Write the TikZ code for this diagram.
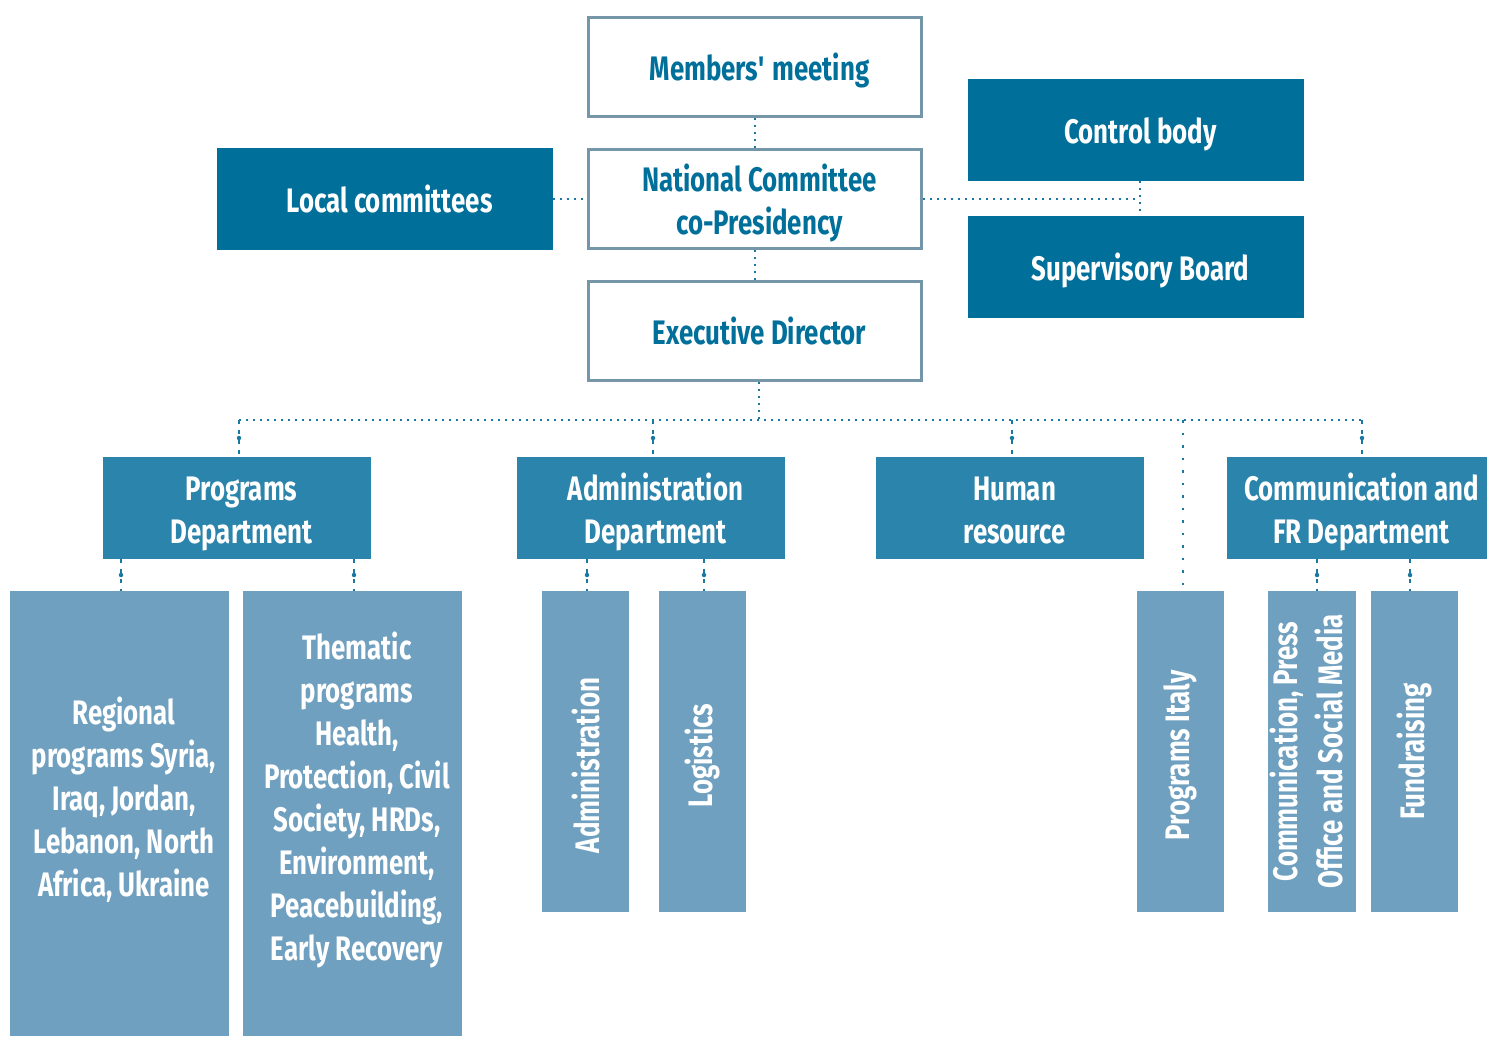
\documentclass[tikz,border=0pt]{standalone}
\usepackage{fontspec}
\setmainfont[FakeStretch=0.76]{Fira Sans}
\definecolor{dark}{HTML}{00709B}
\definecolor{mid}{HTML}{2B84AB}
\definecolor{light}{HTML}{70A0BF}
\definecolor{edge}{HTML}{7596A8}
\definecolor{conn}{HTML}{1A79A0}
\newcommand{\Txt}[2][-5pt]{\hspace*{9pt}\raisebox{#1}[\height][\depth]{\begin{tabular}{@{}c@{}}#2\end{tabular}}}
\tikzset{
  txt/.style={font=\bfseries\fontsize{34}{43}\selectfont, inner sep=0pt},
  whitebox/.style={txt, draw=edge, line width=3pt, fill=white, text=dark, minimum width=333pt, minimum height=99pt},
  darkbox/.style={txt, fill=dark, text=white, minimum width=336pt, minimum height=102pt},
  deptbox/.style={txt, fill=mid, text=white, minimum height=102pt},
  subbox/.style={txt, fill=light, text=white},
  vbox/.style={subbox, minimum width=87pt, minimum height=321pt},
  conline/.style={draw=conn, line width=1.8pt, dash pattern=on 2pt off 5pt},
  thinline/.style={draw=conn, line width=1.2pt, dash pattern=on 4pt off 6pt},
  dotc/.style={fill=conn, draw=none, circle, minimum size=4.5pt, inner sep=0pt}
}
\begin{document}
\begin{tikzpicture}[x=1pt,y=-1pt]
\useasboundingbox (0,0) rectangle (1488,1037);
% top column
\node[whitebox] (mm) at (755,67) {\Txt{Members\textquotesingle{} meeting}};
\node[whitebox] (nc) at (755,199) {\Txt{National Committee\\co-Presidency}};
\node[whitebox] (ed) at (755,331) {\Txt{Executive Director}};
\node[darkbox] (lc) at (385,199) {\Txt{Local committees}};
\node[darkbox] (cb) at (1136,130) {\Txt{Control body}};
\node[darkbox] (sb) at (1136,267) {\Txt{Supervisory Board}};
% departments
\node[deptbox, minimum width=268pt] (pd) at (237,508) {\Txt{Programs\\Department}};
\node[deptbox, minimum width=268pt] (ad) at (651,508) {\Txt{Administration\\Department}};
\node[deptbox, minimum width=268pt] (hr) at (1010,508) {\Txt{Human\\resource}};
\node[deptbox, minimum width=260pt] (cd) at (1357,508) {\Txt{Communication and\\FR Department}};
% sub units
\node[subbox, minimum width=219pt, minimum height=445pt] (rp) at (119.5,813.5) {\Txt[12pt]{Regional\\programs Syria,\\Iraq, Jordan,\\Lebanon, North\\Africa, Ukraine}};
\node[subbox, minimum width=219pt, minimum height=445pt] (tp) at (352.5,813.5) {\Txt[12pt]{Thematic\\programs\\Health,\\Protection, Civil\\Society, HRDs,\\Environment,\\Peacebuilding,\\Early Recovery}};
\node[vbox] (adm) at (585.5,751.5) {\raisebox{-14pt}[\height][\depth]{\rotatebox{90}{Administration}}};
\node[vbox] (log) at (702.5,751.5) {\raisebox{-4pt}[\height][\depth]{\rotatebox{90}{Logistics}}};
\node[vbox] (pi) at (1180.5,751.5) {\raisebox{-4pt}[\height][\depth]{\rotatebox{90}{Programs Italy}}};
\node[vbox] (cp) at (1311.5,751.5) {\rotatebox{90}{\begin{tabular}{@{}c@{}}Communication, Press\\[2pt]Office and Social Media\end{tabular}}};
\node[vbox] (fr) at (1414.5,751.5) {\rotatebox{90}{Fundraising}};
% top connectors
\draw[conline] (mm.south) -- (nc.north);
\draw[conline] (nc.south) -- (ed.north);
\draw[conline] (lc.east) -- (nc.west);
\coordinate (cj) at (1140,199);
\draw[conline] (nc.east) -- (cj);
\draw[conline] (cb.south -| cj) -- (sb.north -| cj);
% bus
\coordinate (bus) at (759,420);
\coordinate (bl) at (239,420);
\coordinate (br) at (1362,420);
\draw[conline] (ed.south -| bus) -- (bus);
\draw[conline] (bl) -- (br);
\foreach \n/\x in {pd/239, ad/653, hr/1012, cd/1362}{
  \draw[thinline] (\x,420) -- (\n.north -| \x,0);
  \node[dotc] at (\x,438) {};
}
\draw[conline, dash pattern=on 2.5pt off 10pt, line width=2.5pt] (1183,420) -- (pi.north -| 1183,0);
% sub connectors
\foreach \p/\c/\x in {pd/rp/121, pd/tp/354, ad/adm/587, ad/log/704, cd/cp/1317, cd/fr/1410}{
  \draw[thinline] (\p.south -| \x,0) -- (\c.north -| \x,0);
  \node[dotc] at (\x,575) {};
}
\end{tikzpicture}
\end{document}
